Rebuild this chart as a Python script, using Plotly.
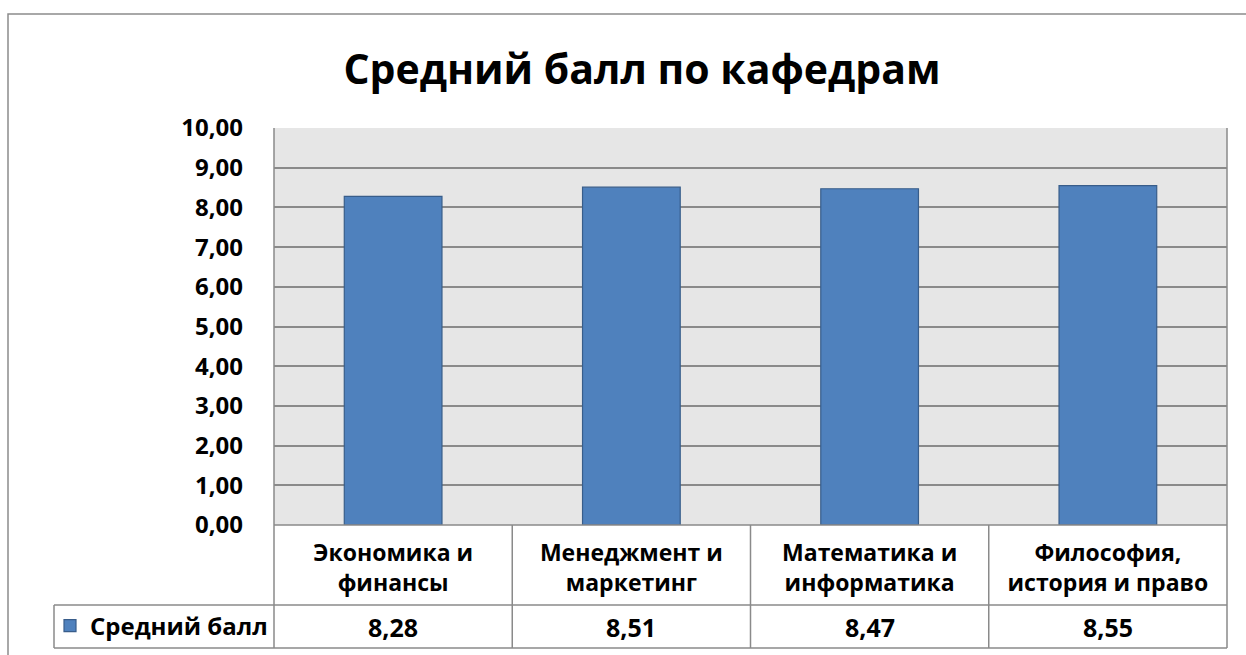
import plotly.graph_objects as go

categories = ["Экономика и<br>финансы", "Менеджмент и<br>маркетинг",
              "Математика и<br>информатика", "Философия,<br>история и право"]
values = [8.28, 8.51, 8.47, 8.55]
series_name = "Средний балл"
title_text = "Средний балл по кафедрам"
y_ticks = [0, 1, 2, 3, 4, 5, 6, 7, 8, 9, 10]

W, H = 1246, 655
L, R, T, B = 274, 19, 128, 130
PW, PH = W - L - R, H - T - B

def px_x(X):
    return (X - L) / PW

def px_y(Y):
    return (H - B - Y) / PH

FONT = "Open Sans"
GRID = "#8a8a8a"
BAR = "#4f81bd"

fig = go.Figure()
fig.add_trace(go.Bar(
    x=categories, y=values, name=series_name,
    marker=dict(color=BAR, line=dict(color="#385d8a", width=1.2)),
    width=0.41, showlegend=True,
))

shapes = []
line = dict(color=GRID, width=1.5)
# outer chart border
shapes.append(dict(type="rect", xref="paper", yref="paper",
                   x0=px_x(8), x1=px_x(1252), y0=px_y(662), y1=px_y(14),
                   line=dict(color="#8c8c8c", width=1.5), layer="below"))
# table horizontal lines
y_row1 = px_y(605)
y_row2 = px_y(648)
shapes.append(dict(type="line", xref="paper", yref="paper", x0=0, x1=1, y0=0, y1=0, line=line))
shapes.append(dict(type="line", xref="paper", yref="paper", x0=px_x(54), x1=1, y0=y_row1, y1=y_row1, line=line))
shapes.append(dict(type="line", xref="paper", yref="paper", x0=px_x(54), x1=1, y0=y_row2, y1=y_row2, line=line))
# vertical lines
shapes.append(dict(type="line", xref="paper", yref="paper", x0=px_x(54), x1=px_x(54), y0=y_row2, y1=y_row1, line=line))
shapes.append(dict(type="line", xref="paper", yref="paper", x0=0, x1=0, y0=y_row2, y1=1, line=line))
shapes.append(dict(type="line", xref="paper", yref="paper", x0=1, x1=1, y0=y_row2, y1=1, line=line))
for i in range(1, len(categories)):
    shapes.append(dict(type="line", xref="x", yref="paper", x0=i - 0.5, x1=i - 0.5,
                       y0=y_row2, y1=0, line=line))

annotations = []
for c, v in zip(categories, values):
    annotations.append(dict(x=c, xref="x", y=(y_row1 + y_row2) / 2, yref="paper",
                            text=f"{v:.2f}".replace(".", ","), showarrow=False,
                            font=dict(family=FONT, size=25, color="black", weight="bold"),
                            yanchor="middle", xanchor="center"))

fig.update_layout(
    width=W, height=H,
    margin=dict(l=L, r=R, t=T, b=B, autoexpand=False),
    paper_bgcolor="white", plot_bgcolor="#e6e6e6",
    separators=", ",
    title=dict(text=title_text, x=642 / W, xref="container", xanchor="center",
               y=1 - 70 / H, yref="container", yanchor="middle",
               font=dict(family=FONT, size=41, color="black", weight="bold")),
    xaxis=dict(type="category", showgrid=False, showline=False, ticks="",
               tickfont=dict(family=FONT, size=23, color="black", weight="bold"),
               ticklabelstandoff=12, range=[-0.5, 3.5], automargin=False),
    yaxis=dict(range=[0, 10], tickvals=y_ticks, tickformat=".2f", showgrid=True,
               gridcolor=GRID, gridwidth=1.5, zeroline=False, showline=False, ticks="",
               tickfont=dict(family=FONT, size=24, color="black", weight="bold"),
               ticklabelstandoff=30, automargin=False),
    legend=dict(xref="container", yref="container", x=50 / W, y=1 - 626 / H,
                xanchor="left", yanchor="middle",
                bgcolor="rgba(0,0,0,0)", itemwidth=30,
                font=dict(family=FONT, size=24, color="black", weight="bold")),
    shapes=shapes, annotations=annotations,
    bargap=0.59,
)

fig.write_html("out.html", config={"displayModeBar": False},
               post_script="document.body.style.margin='0';document.body.style.overflow='hidden';")
